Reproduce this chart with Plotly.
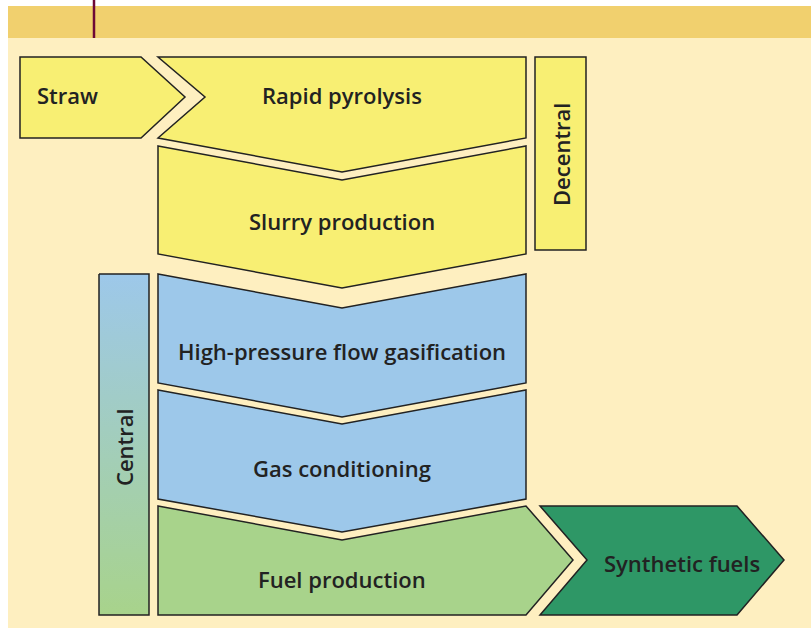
import plotly.graph_objects as go

# ---- content ----
step_labels = ["Straw", "Rapid pyrolysis", "Slurry production",
               "High-pressure flow gasification", "Gas conditioning",
               "Fuel production", "Synthetic fuels"]
side_labels = ["Decentral", "Central"]

YELLOW = "#F8EF73"
BLUE = "#9DC8EA"
LGREEN = "#A8D38B"
DGREEN = "#2E9766"
CREAM = "#FEEFC0"
BAND = "#F1D06E"
LINE = "#222222"
TXT = "#222222"

step_colors = [YELLOW, YELLOW, YELLOW, BLUE, BLUE, LGREEN, DGREEN]

# ---- geometry (layout) ----
polys = [
    [(20, 57), (141, 57), (185, 97), (141, 138), (20, 138)],
    [(158, 57), (526, 57), (526, 138), (342, 172), (158, 138), (205, 97)],
    [(158, 146), (342, 180), (526, 146), (526, 254), (342, 288), (158, 254)],
    [(158, 274), (342, 308), (526, 274), (526, 383), (342, 417), (158, 383)],
    [(158, 390), (342, 424), (526, 390), (526, 499), (342, 532), (158, 499)],
    [(158, 506), (342, 540), (526, 506), (573, 560), (526, 615), (158, 615)],
    [(540, 506), (737, 506), (784, 560), (737, 615), (540, 615), (587, 560)],
]
label_pos = [(67, 95), (342, 95), (342, 221), (342, 351), (342, 468),
             (342, 579), (682, 563)]

def path(pts):
    return "M " + " L ".join(f"{x},{y}" for x, y in pts) + " Z"

fig = go.Figure()

shapes = [
    dict(type="rect", x0=8, x1=811, y0=38, y1=628, fillcolor=CREAM, line_width=0, layer="below"),
    dict(type="rect", x0=8, x1=811, y0=6, y1=38, fillcolor=BAND, line_width=0, layer="below"),
    dict(type="line", x0=94, x1=94, y0=0, y1=38, line=dict(color="#6E0836", width=2.5)),
]
for pts, col in zip(polys, step_colors):
    shapes.append(dict(type="path", path=path(pts), fillcolor=col,
                       line=dict(color=LINE, width=1.5)))
# Decentral box
shapes.append(dict(type="rect", x0=535, x1=586, y0=57, y1=250, fillcolor=YELLOW,
                   line=dict(color=LINE, width=1.5)))

# Central bar with vertical gradient
fig.add_trace(go.Scatter(
    x=[99, 149, 149, 99, 99], y=[274, 274, 615, 615, 274],
    mode="lines", fill="toself",
    line=dict(color=LINE, width=1.5),
    fillgradient=dict(type="vertical", colorscale=[[0, LGREEN], [1, BLUE]]),
    hoverinfo="skip", showlegend=False,
))

annotations = []
font = dict(family="Open Sans", size=22, color=TXT, weight=600)
for lab, (x, y) in zip(step_labels, label_pos):
    annotations.append(dict(x=x, y=y, text=lab, showarrow=False, font=font,
                            xanchor="center", yanchor="middle"))
annotations.append(dict(x=561, y=155, text=side_labels[0], textangle=-90,
                        showarrow=False, font=font))
annotations.append(dict(x=124, y=447, text=side_labels[1], textangle=-90,
                        showarrow=False, font=font))

fig.update_layout(
    width=811, height=628,
    margin=dict(l=0, r=0, t=0, b=0),
    paper_bgcolor="white", plot_bgcolor="rgba(0,0,0,0)",
    xaxis=dict(range=[0, 811], visible=False, fixedrange=True),
    yaxis=dict(range=[628, 0], visible=False, fixedrange=True),
    shapes=shapes, annotations=annotations,
    showlegend=False,
)

fig.write_html("out.html", config=dict(displayModeBar=False),
               post_script="document.body.style.margin='0px';")
